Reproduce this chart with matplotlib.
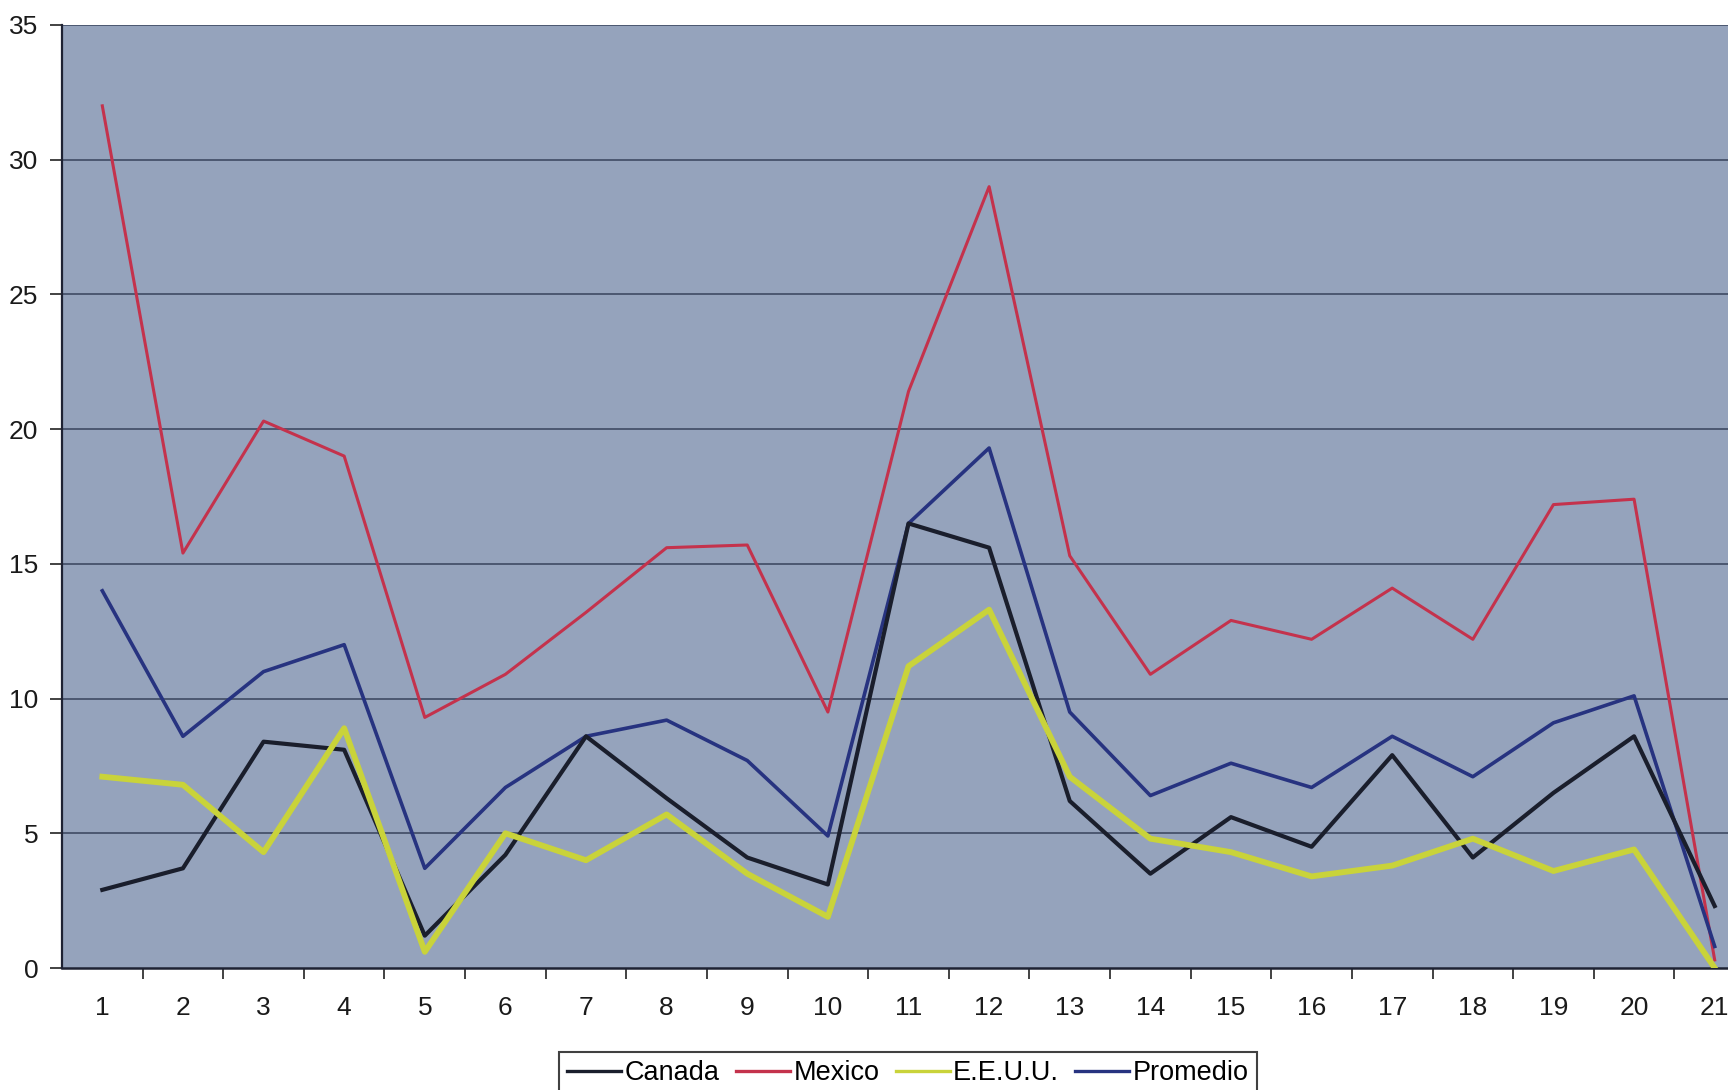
import matplotlib
matplotlib.use("Agg")
from matplotlib import pyplot as plt
import numpy as np

# valores por periodo (1..21)
periodos = list(range(1, 22))
canada = [2.9, 3.7, 8.4, 8.1, 1.2, 4.2, 8.6, 6.3, 4.1, 3.1, 16.5,
          15.6, 6.2, 3.5, 5.6, 4.5, 7.9, 4.1, 6.5, 8.6, 2.3]
mexico = [32.0, 15.4, 20.3, 19.0, 9.3, 10.9, 13.2, 15.6, 15.7, 9.5, 21.4,
          29.0, 15.3, 10.9, 12.9, 12.2, 14.1, 12.2, 17.2, 17.4, 0.3]
eeuu = [7.1, 6.8, 4.3, 8.9, 0.6, 5.0, 4.0, 5.7, 3.5, 1.9, 11.2,
        13.3, 7.1, 4.8, 4.3, 3.4, 3.8, 4.8, 3.6, 4.4, 0.0]
promedio = [14.0, 8.6, 11.0, 12.0, 3.7, 6.7, 8.6, 9.2, 7.7, 4.9, 16.5,
            19.3, 9.5, 6.4, 7.6, 6.7, 8.6, 7.1, 9.1, 10.1, 0.8]
yticks = [0, 5, 10, 15, 20, 25, 30, 35]

plt.rcParams['font.family'] = ['Liberation Sans', 'DejaVu Sans']

fig = plt.figure(figsize=(17.28, 10.9), dpi=100)
W, H = 1728, 1090
# el area del grafico se sale un poco por la derecha
ax = fig.add_axes([62 / W, 122 / H, 1693 / W, 943 / H])
ax.set_facecolor('#95a3bc')

x = np.array(periodos)
ax.plot(x, mexico, color='#c4324c', lw=2.2, label='Mexico', zorder=3)
ax.plot(x, promedio, color='#273380', lw=2.6, label='Promedio', zorder=4)
ax.plot(x, canada, color='#1a1e2c', lw=3.0, label='Canada', zorder=5)
ax.plot(x, eeuu, color='#c9d33a', lw=4.2, label='E.E.U.U.', zorder=6)

ax.set_xlim(0.5, 21.5)
ax.set_ylim(0, 35)

for y in yticks[1:]:
    ax.axhline(y, color='#2c3650', lw=1.3, alpha=0.75, zorder=1)

ax.set_yticks(yticks)
ax.set_xticks(periodos)
ax.set_xticks(np.arange(1.5, 21.5, 1.0), minor=True)
ax.tick_params(axis='x', which='major', length=0, pad=20, labelsize=19,
               labelcolor='#1a1a1a')
ax.tick_params(axis='x', which='minor', length=8, width=1.2, direction='out',
               color='#222222')
ax.tick_params(axis='y', length=9, width=1.2, direction='out', pad=8,
               labelsize=19, labelcolor='#1a1a1a', color='#222222')

for side in ['top', 'right']:
    ax.spines[side].set_visible(False)
ax.spines['left'].set_color('#1e2233')
ax.spines['left'].set_linewidth(1.6)
ax.spines['bottom'].set_color('#1e2233')
ax.spines['bottom'].set_linewidth(1.8)

handles, labels = ax.get_legend_handles_labels()
order = ['Canada', 'Mexico', 'E.E.U.U.', 'Promedio']
hmap = dict(zip(labels, handles))
leg = fig.legend([hmap[k] for k in order], order, ncol=4,
                 loc='upper center', bbox_to_anchor=(908 / W, 1 - 1052 / H),
                 frameon=True, fancybox=False,
                 handlelength=2.0, handletextpad=0.12, columnspacing=0.6,
                 borderpad=0.3, borderaxespad=0,
                 prop={'family': ['Liberation Sans Narrow', 'Liberation Sans'],
                       'size': 19.5})
leg.get_frame().set_edgecolor('#111111')
leg.get_frame().set_linewidth(1.5)
for line in leg.get_lines():
    line.set_linewidth(2.4)

fig.savefig('out.png', dpi=100)
